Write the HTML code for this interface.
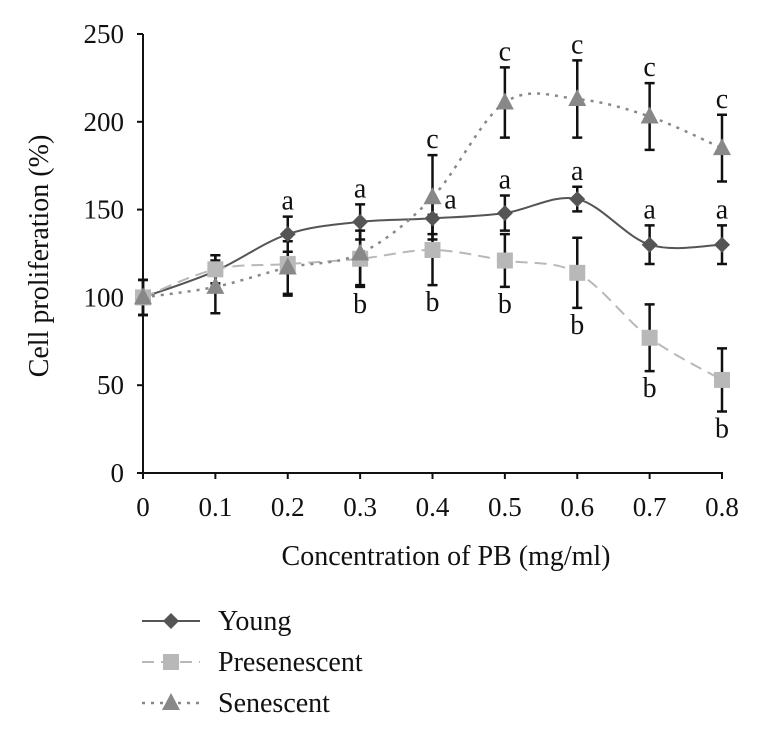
<!DOCTYPE html>
<html><head><meta charset="utf-8"><style>
body{margin:0;background:#fff;}
svg text{font-family:"Liberation Serif",serif;fill:#111;}
</style></head><body>
<svg id="c" width="757" height="734"></svg>
<script>
const xCats=[0,0.1,0.2,0.3,0.4,0.5,0.6,0.7,0.8];
const xTickLabels=["0","0.1","0.2","0.3","0.4","0.5","0.6","0.7","0.8"];
const yTicks=[0,50,100,150,200,250];
const young=[100,115,136,143,145,148,156,130,130];
const youngErr=[10,9,10,10,9,10,7,11,11];
const pres=[100,116,119,122,127,121,114,77,53];
const presErr=[10,8,18,16,20,15,20,19,18];
const sen=[100,106,117,125,157,211,213,203,185];
const senErr=[10,15,15,18,24,20,22,19,19];
const youngLetters=["","","a","a","a","a","a","a","a"];
const presLetters=["","","","b","b","b","b","b","b"];
const senLetters=["","","","","c","c","c","c","c"];

const svg=document.getElementById('c');const NS="http://www.w3.org/2000/svg";
const X=i=>143+i*(722-143)/8;
const Y=v=>473-v*(473-34)/250;
function mk(t,a,p){const e=document.createElementNS(NS,t);for(const k in a)e.setAttribute(k,a[k]);(p||svg).appendChild(e);return e;}
let ax=mk('line',{x1:143,y1:34,x2:143,y2:473,stroke:'#111','stroke-width':2});

ax=mk('line',{x1:143,y1:473,x2:723,y2:473,stroke:'#111','stroke-width':2});

yTicks.forEach(v=>{mk('line',{x1:137,y1:Y(v),x2:143,y2:Y(v),stroke:'#111','stroke-width':2});
 const t=mk('text',{x:124,y:Y(v)+9,'text-anchor':'end','font-size':27});t.textContent=v;
 });
xCats.forEach((c,i)=>{mk('line',{x1:X(i),y1:473,x2:X(i),y2:479,stroke:'#111','stroke-width':2});
 const t=mk('text',{x:X(i),y:516,'text-anchor':'middle','font-size':27});t.textContent=xTickLabels[i];
 });
let t=mk('text',{x:446,y:565,'text-anchor':'middle','font-size':28});t.textContent="Concentration of PB (mg/ml)";

t=mk('text',{x:0,y:0,'text-anchor':'middle','font-size':28,transform:'translate(48,256) rotate(-90)'});t.textContent="Cell proliferation (%)";

function smooth(pts){let d=`M${pts[0][0]},${pts[0][1]}`;for(let i=0;i<pts.length-1;i++){const p0=pts[Math.max(0,i-1)],p1=pts[i],p2=pts[i+1],p3=pts[Math.min(pts.length-1,i+2)];
 d+=` C${p1[0]+(p2[0]-p0[0])/6},${p1[1]+(p2[1]-p0[1])/6} ${p2[0]-(p3[0]-p1[0])/6},${p2[1]-(p3[1]-p1[1])/6} ${p2[0]},${p2[1]}`;}return d;}
function marker(type,x,y,col,g){if(type==='d')return mk('path',{d:`M${x},${y-8}L${x+8},${y}L${x},${y+8}L${x-8},${y}Z`,fill:col},g);
 if(type==='s')return mk('rect',{x:x-8,y:y-8,width:16,height:16,fill:col},g);
 return mk('path',{d:`M${x},${y-10}L${x+9},${y+7}L${x-9},${y+7}Z`,fill:col},g);}
const series=[{n:'young',v:young,e:youngErr,col:'#555',dash:'',m:'d',w:2},
 {n:'presenescent',v:pres,e:presErr,col:'#b8b8b8',dash:'12,7',m:'s',w:2},
 {n:'senescent',v:sen,e:senErr,col:'#888',dash:'3,6',m:'t',w:2.5}];
series.forEach(s=>{const g=mk('g',{});
 const p=mk('path',{d:smooth(s.v.map((v,i)=>[X(i),Y(v)])),fill:'none',stroke:s.col,'stroke-width':s.w,'stroke-dasharray':s.dash},g);
 
 s.v.forEach((v,i)=>{const x=X(i),y1=Y(v+s.e[i]),y2=Y(v-s.e[i]);
  const eb=mk('path',{d:`M${x},${y1}V${y2}M${x-5},${y1}H${x+5}M${x-5},${y2}H${x+5}`,stroke:'#111','stroke-width':2.5,fill:'none'},g);
  });});
series.forEach(s=>{s.v.forEach((v,i)=>{const m=marker(s.m,X(i),Y(v),s.col,svg);
 });});
function letters(arr,vals,errs,above){arr.forEach((l,i)=>{if(!l)return;let x=X(i),y;
 if(above){y=Y(vals[i]+errs[i])-7;}else{y=Y(vals[i]-errs[i])+26;}
 if(l==='a'&&i===4){x+=18;y=Y(vals[i])-10;}
 const tt=mk('text',{x:x,y:y,'text-anchor':'middle','font-size':28});tt.textContent=l;
 });}
letters(youngLetters,young,youngErr,true);letters(presLetters,pres,presErr,false);letters(senLetters,sen,senErr,true);
const leg=[['Young',series[0],621],['Presenescent',series[1],662],['Senescent',series[2],703]];
leg.forEach(([name,s,y])=>{const g=mk('g',{});
 mk('line',{x1:142,y1:y,x2:200,y2:y,stroke:s.col,'stroke-width':s.w,'stroke-dasharray':s.dash},g);
 marker(s.m,171,y,s.col,g);
 const tx=mk('text',{x:218,y:y+9,'font-size':28},g);tx.textContent=name;});
</script>
</body></html>
